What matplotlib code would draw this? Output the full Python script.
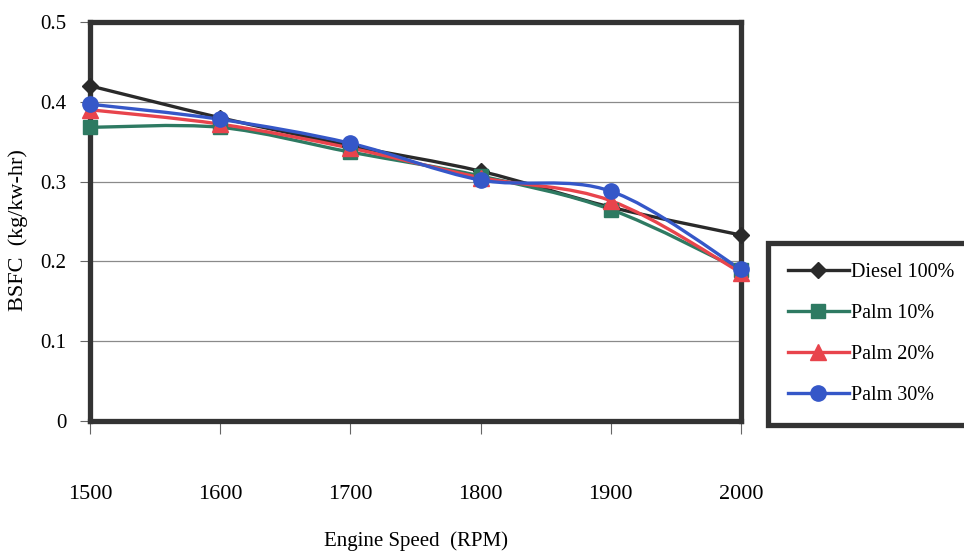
import matplotlib
matplotlib.use("Agg")
import matplotlib.pyplot as plt
from matplotlib.path import Path
from matplotlib.patches import PathPatch
from matplotlib.lines import Line2D
import numpy as np

plt.rcParams['font.family'] = ['Liberation Serif', 'DejaVu Serif']

speed = [1500, 1600, 1700, 1800, 1900, 2000]
diesel_100 = [0.420, 0.380, 0.345, 0.313, 0.268, 0.233]
palm_10 = [0.368, 0.368, 0.337, 0.307, 0.265, 0.189]
palm_20 = [0.390, 0.372, 0.342, 0.305, 0.276, 0.186]
palm_30 = [0.397, 0.378, 0.348, 0.302, 0.288, 0.190]

series = [
    ("Diesel 100%", diesel_100, "#2a2a2a", "D", 8),
    ("Palm 10%", palm_10, "#2e7a62", "s", 10),
    ("Palm 20%", palm_20, "#e8444c", "^", 11),
    ("Palm 30%", palm_30, "#3557c8", "o", 11),
]


def smooth_path(xs, ys):
    """Catmull-Rom style Bezier path through the points (spreadsheet 'smoothed line')."""
    pts = np.column_stack([xs, ys]).astype(float)
    n = len(pts)
    verts = [pts[0]]
    codes = [Path.MOVETO]
    for i in range(n - 1):
        p0 = pts[i - 1] if i > 0 else pts[i]
        p1 = pts[i]
        p2 = pts[i + 1]
        p3 = pts[i + 2] if i + 2 < n else pts[i + 1]
        c1 = p1 + (p2 - p0) / 6.0
        c2 = p2 - (p3 - p1) / 6.0
        verts += [c1, c2, p2]
        codes += [Path.CURVE4] * 3
    return Path(verts, codes)


fig = plt.figure(figsize=(9.64, 5.51), dpi=100)
ax = fig.add_axes([90 / 964, 1 - 421 / 551, (741 - 90) / 964, (421 - 22) / 551])

ax.set_xlim(1500, 2000)
ax.set_ylim(0, 0.5)
ax.set_yticks([0, 0.1, 0.2, 0.3, 0.4, 0.5])
ax.set_yticklabels(["0", "0.1", "0.2", "0.3", "0.4", "0.5"])
ax.set_xticks(speed)
ax.set_xticklabels([str(s) for s in speed])

for yv in [0.1, 0.2, 0.3, 0.4]:
    ax.axhline(yv, color="#8a8a8a", lw=0.9, zorder=1)

for label, vals, color, marker, ms in series:
    patch = PathPatch(smooth_path(speed, vals), facecolor="none", edgecolor=color,
                      lw=2.4, zorder=3, clip_on=False)
    ax.add_patch(patch)
    ax.plot(speed, vals, linestyle="none", marker=marker, markersize=ms, color=color,
            markeredgecolor=color, zorder=4, clip_on=False)

for sp in ax.spines.values():
    sp.set_linewidth(3.8)
    sp.set_color("#333333")

ax.tick_params(axis="y", direction="out", length=7, width=0.8, color="#666666",
               pad=10, labelsize=15)
ax.tick_params(axis="x", direction="out", length=9, width=0.8, color="#666666",
               pad=37, labelsize=16)

ax.set_xlabel("Engine Speed  (RPM)", fontsize=15, labelpad=20)
fig.text(18 / 964, 1 - 230 / 551, "BSFC  (kg/kw-hr)", rotation=90, fontsize=16,
         ha="center", va="center")

handles = [Line2D([], [], color=c, lw=2.4, marker=m, markersize=ms)
           for _, _, c, m, ms in series]
leg = fig.legend(handles, [s[0] for s in series], loc="upper left",
                 bbox_to_anchor=(768 / 964, 1 - 243 / 551), borderaxespad=0,
                 fontsize=14.5, frameon=True, fancybox=False, handlelength=3.0,
                 handletextpad=0.1, labelspacing=1.08, borderpad=1.0)
fr = leg.get_frame()
fr.set_linewidth(3.8)
fr.set_edgecolor("#333333")
fr.set_alpha(1)

fig.savefig("out.png", dpi=100)
